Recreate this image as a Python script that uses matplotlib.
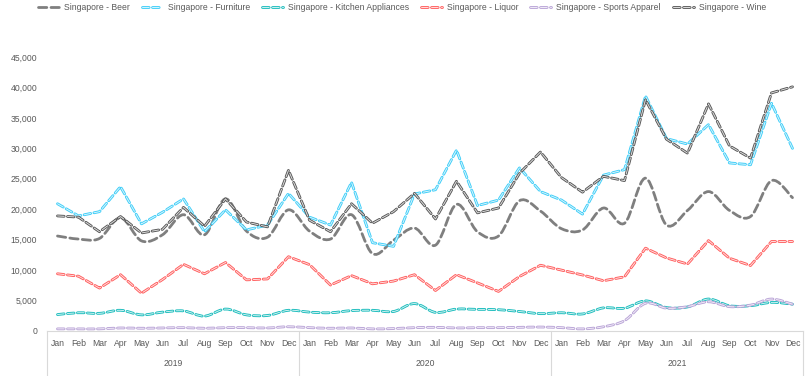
import numpy as np
import matplotlib
matplotlib.use('Agg')
import matplotlib.pyplot as plt
import matplotlib.patheffects as pe
from matplotlib.path import Path
from matplotlib.patches import PathPatch
from matplotlib.lines import Line2D
from matplotlib.ticker import FuncFormatter
from matplotlib.transforms import blended_transform_factory

plt.rcParams['font.family'] = ['Liberation Sans', 'DejaVu Sans']

# Data (monthly sales, Jan 2019 - Dec 2021)
years = ['2019', '2020', '2021']
months = ['Jan', 'Feb', 'Mar', 'Apr', 'May', 'Jun',
          'Jul', 'Aug', 'Sep', 'Oct', 'Nov', 'Dec']

beer = [15600, 15100, 15200, 18600, 14800, 15800, 19100, 15800, 21700, 16400, 15400, 19900,
        16400, 15100, 19100, 12700, 14900, 16900, 14100, 20800, 16300, 15600, 21400, 19700,
        16800, 16600, 20200, 17700, 25100, 17400, 19800, 22900, 19800, 18800, 24700, 21900]
furniture = [20900, 18900, 19600, 23700, 17600, 19500, 21700, 16300, 19900, 16600, 17400, 22600,
             18700, 17400, 24400, 14500, 13900, 22500, 23200, 29700, 20600, 21500, 26800, 22900,
             21500, 19200, 25600, 26500, 38600, 31600, 30700, 33900, 27600, 27300, 37400, 30000]
kitchen = [2700, 3000, 2900, 3400, 2650, 3100, 3300, 2450, 3600, 2650, 2550, 3400,
           3100, 3000, 3350, 3400, 3200, 4500, 3050, 3600, 3550, 3500, 3200, 2850,
           3000, 2800, 3800, 3750, 4950, 3850, 3950, 5250, 4150, 4150, 4700, 4400]
liquor = [9400, 9000, 7050, 9250, 6200, 8450, 10950, 9400, 11250, 8400, 8550, 12200,
          10900, 7550, 9100, 7750, 8200, 9250, 6650, 9250, 7900, 6500, 8950, 10800,
          10000, 9200, 8250, 8900, 13600, 12000, 11000, 14850, 11950, 10750, 14700, 14700]
sports = [350, 350, 350, 500, 450, 500, 550, 450, 550, 550, 500, 700,
          550, 450, 500, 350, 400, 550, 600, 500, 550, 550, 600, 650,
          550, 350, 700, 1700, 4550, 3750, 4000, 4800, 4000, 4250, 5250, 4400]
wine = [18900, 18700, 16300, 18800, 16100, 16700, 20300, 17200, 21700, 17900, 17100, 26400,
        18200, 16300, 20900, 17700, 19600, 22600, 18400, 24600, 19400, 20200, 25900, 29400,
        25200, 22800, 25400, 24700, 38000, 31500, 29200, 37300, 30400, 28400, 39100, 40100]

TEXT = '#595959'


def smooth_path(xs, ys):
    """Excel-like smoothed line built from cubic bezier segments."""
    pts = np.column_stack([xs, ys]).astype(float)
    n = len(pts)
    verts = [pts[0]]
    codes = [Path.MOVETO]
    for i in range(n - 1):
        p0 = pts[max(i - 1, 0)]
        p1 = pts[i]
        p2 = pts[i + 1]
        p3 = pts[min(i + 2, n - 1)]
        verts += [p1 + (p2 - p0) / 6, p2 - (p3 - p1) / 6, p2]
        codes += [Path.CURVE4] * 3
    return Path(verts, codes)


# label, values, colour, smoothed, hollow dashes, dash pattern
series = [
    ('Singapore - Beer', beer, '#7f7f7f', True, False, (3.0, 1.5)),
    ('Singapore - Furniture', furniture, '#3ccdf8', False, True, (2.4, 1.2)),
    ('Singapore - Kitchen Appliances', kitchen, '#19bcbc', True, True, (2.4, 1.2)),
    ('Singapore - Liquor', liquor, '#ff5b5b', False, True, (2.4, 1.2)),
    ('Singapore - Sports Apparel', sports, '#b8a2d6', True, True, (2.4, 1.2)),
    ('Singapore - Wine', wine, '#555555', False, True, (2.4, 1.2)),
]

fig = plt.figure(figsize=(8.08, 3.76), dpi=100)
ax = fig.add_axes([47 / 808, 45 / 376, 756 / 808, 274 / 376])

x = np.arange(len(months) * len(years))
lw = 2.0
handles = []
for label, vals, color, smooth, hollow, dashes in series:
    effects = None
    if hollow:
        effects = [pe.Stroke(linewidth=lw, foreground=color),
                   pe.Stroke(linewidth=lw * 0.35, foreground='white', alpha=0.8)]
    if smooth:
        patch = PathPatch(smooth_path(x, vals), facecolor='none', edgecolor=color,
                          linewidth=lw, linestyle=(0, dashes), capstyle='round',
                          path_effects=effects)
        ax.add_patch(patch)
    else:
        ax.plot(x, vals, color=color, linewidth=lw, linestyle=(0, dashes),
                dash_capstyle='round', path_effects=effects)
    handles.append(Line2D([], [], color=color, linewidth=lw, linestyle=(0, dashes),
                          dash_capstyle='round', path_effects=effects, label=label))

ax.set_xlim(-0.5, len(x) - 0.5)
ax.set_ylim(0, 45000)
ax.set_yticks(np.arange(0, 45001, 5000))
ax.yaxis.set_major_formatter(FuncFormatter(lambda v, p: f'{v:,.0f}'))
ax.set_xticks(x)
ax.set_xticklabels(months * len(years))
ax.tick_params(axis='both', length=0, labelsize=6.2, colors=TEXT)
ax.tick_params(axis='y', pad=7)
ax.tick_params(axis='x', pad=6)

for side in ['left', 'right', 'top']:
    ax.spines[side].set_visible(False)
ax.spines['bottom'].set_color('#d9d9d9')
ax.spines['bottom'].set_linewidth(0.8)

# second level of the category axis: years and separators
trans = blended_transform_factory(ax.transData, ax.transAxes)
for k, yr in enumerate(years):
    ax.text(5.5 + 12 * k, -32 / 274, yr, transform=trans, ha='center', va='center',
            fontsize=6.2, color=TEXT)
for xb in np.arange(-0.5, len(x), 12):
    ax.plot([xb, xb], [0, -45 / 274], transform=trans, color='#d9d9d9',
            linewidth=0.8, clip_on=False)

fig.legend(handles=handles, loc='center', bbox_to_anchor=(402 / 808, 1 - 8 / 376),
           ncol=6, frameon=False, fontsize=6.2, handlelength=2.4, handletextpad=0.6,
           columnspacing=1.4, labelcolor=TEXT)

fig.savefig('out.png', dpi=100)
